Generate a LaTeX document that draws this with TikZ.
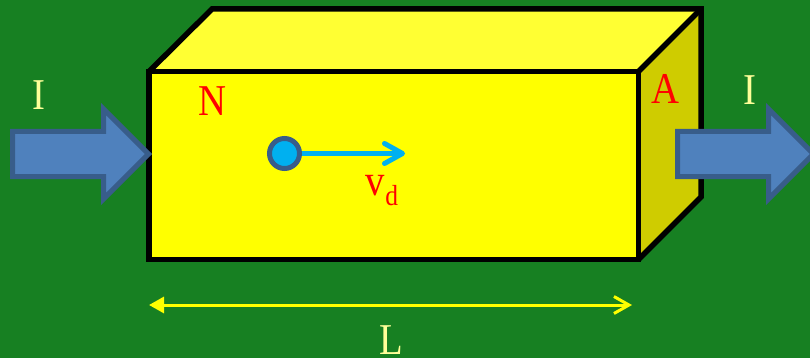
\documentclass[tikz,border=0pt]{standalone}
\usepackage{fontspec}
\setmainfont{Liberation Serif}
\newfontfamily\lab[FakeStretch=0.88]{Liberation Serif}
\usetikzlibrary{arrows.meta}
\definecolor{bggreen}{HTML}{178022}
\definecolor{topyellow}{HTML}{FFFF33}
\definecolor{sideyellow}{HTML}{CFCC00}
\definecolor{pure}{HTML}{FFFF00}
\definecolor{palelabel}{HTML}{FFFF99}
\definecolor{arrowfill}{HTML}{4F81BD}
\definecolor{arrowline}{HTML}{385D8A}
\definecolor{cyanblue}{HTML}{00B0F0}
\tikzset{
  edge/.style={draw=black,line width=5.5pt,line join=miter},
  bigarrow/.style={fill=arrowfill,draw=arrowline,line width=5pt,miter limit=10},
  lbl/.style={inner sep=0pt,anchor=base,font=\fontsize{44}{44}\selectfont\lab},
  palelbl/.style={lbl,text=palelabel},
  redlbl/.style={lbl,text=red},
  electron/.style={circle,draw=arrowline,fill=cyanblue,line width=5pt,minimum size=30pt,inner sep=0pt},
  drift/.style={draw=cyanblue,line width=5pt,-{Straight Barb[length=18pt,width=20pt,round]}},
  lengthdim/.style={draw=pure,line width=3pt,{Triangle[length=15pt,width=16pt]}-{Straight Barb[length=15pt,width=17pt,line width=3pt]}}
}
\begin{document}
\begin{tikzpicture}[x=1pt,y=-1pt]
\path[use as bounding box,fill=bggreen] (0,0) rectangle (810,358);
% box faces
\path[fill=topyellow] (149,71.5) -- (212,9) -- (701,9) -- (638.5,71.5) -- cycle;
\path[fill=sideyellow] (638.5,71.5) -- (701,9) -- (701,197) -- (638.5,259.5) -- cycle;
% box edges
\path[edge] (149,71.5) -- (212,9) -- (701,9) -- (701,197) -- (638.5,259.5);
\path[edge] (638.5,71.5) -- (701,9);
\path[edge,fill=pure] (149,71.5) rectangle (638.5,259.5);
% current arrows
\path[bigarrow] (12.5,131.5) -- (103.5,131.5) -- (103.5,109) -- (148.5,154) -- (103.5,199) -- (103.5,176.5) -- (12.5,176.5) -- cycle;
\path[bigarrow] (677.5,131.5) -- (768.5,131.5) -- (768.5,109) -- (813.5,154) -- (768.5,199) -- (768.5,176.5) -- (677.5,176.5) -- cycle;
% labels
\node[palelbl] (iL) at (39,110) {I};
\node[palelbl] (iR) at (749.5,105) {I};
\node[redlbl] (n) at (212,116) {N};
\node[redlbl] (a) at (665,104) {A};
\node[redlbl] (vd) at (382,195) {v\raisebox{-10pt}{\fontsize{29}{29}\selectfont d}};
\node[palelbl] (len) at (391.5,354) {L};
% electron and drift
\node[electron] (e) at (284.5,153.5) {};
\coordinate (driftend) at (405,153.5);
\draw[drift] (e) -- (driftend);
% length
\coordinate (lenL) at (149,305);
\coordinate (lenR) at (632,305);
\draw[lengthdim] (lenL) -- (lenR);
\end{tikzpicture}
\end{document}
